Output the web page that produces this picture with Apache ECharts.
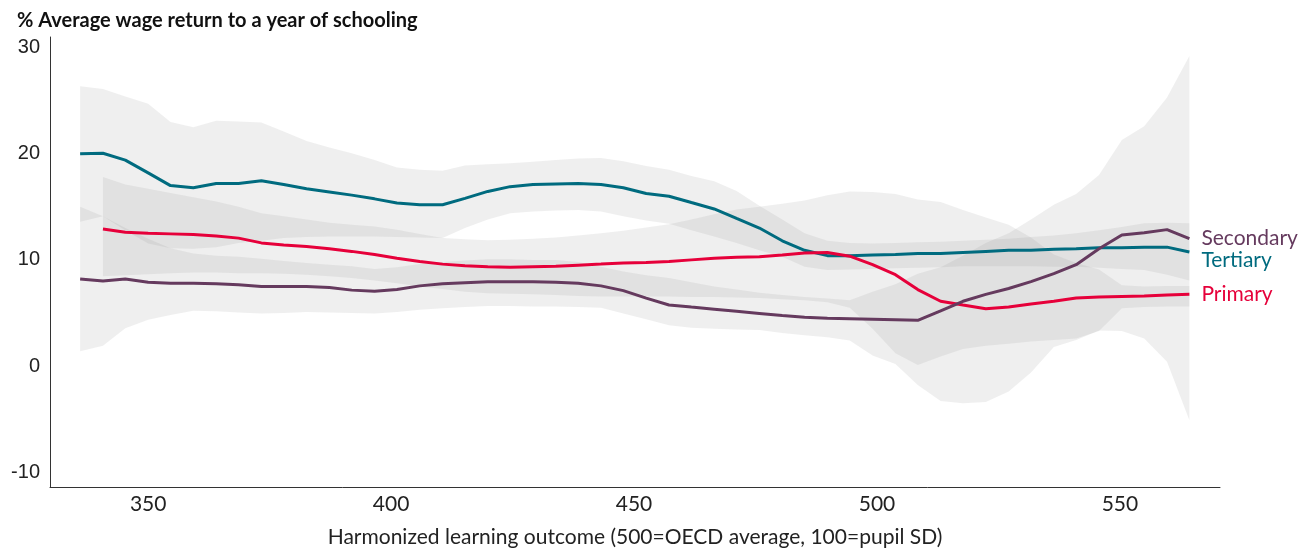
<!DOCTYPE html>
<html>
<head>
<meta charset="utf-8">
<script src="https://cdn.jsdelivr.net/npm/echarts@6/dist/echarts.min.js"></script>
<style>
html,body{margin:0;padding:0;background:#fff;}
#chart{width:1312px;height:548px;}
</style>
</head>
<body>
<div id="chart"></div>
<script>
// Harmonized learning outcome (x)
const xValues = [336.0, 340.7, 345.3, 350.0, 354.6, 359.3, 364.0, 368.6, 373.3, 377.9,
  382.6, 387.3, 391.9, 396.6, 401.2, 405.9, 410.6, 415.2, 419.9, 424.5,
  429.2, 433.9, 438.5, 443.2, 447.8, 452.5, 457.2, 461.8, 466.5, 471.1,
  475.8, 480.5, 485.1, 489.8, 494.4, 499.1, 503.8, 508.4, 513.1, 517.7,
  522.4, 527.1, 531.7, 536.4, 541.0, 545.7, 550.4, 555.0, 559.7, 564.3];

const tertiary = [20.0, 20.05, 19.4, 18.2, 17.0, 16.8, 17.2, 17.2, 17.45, 17.1,
  16.7, 16.4, 16.1, 15.75, 15.35, 15.2, 15.2, 15.8, 16.45, 16.9,
  17.1, 17.15, 17.2, 17.1, 16.8, 16.25, 16.0, 15.4, 14.8, 13.9,
  13.0, 11.8, 10.9, 10.4, 10.4, 10.45, 10.5, 10.6, 10.6, 10.7,
  10.8, 10.9, 10.9, 11.0, 11.05, 11.15, 11.15, 11.2, 11.2, 10.75];
const tertiaryUpper = [26.35, 26.1, 25.4, 24.7, 23.0, 22.5, 23.1, 23.05, 22.95, 22.1,
  21.2, 20.6, 20.05, 19.4, 18.7, 18.5, 18.4, 18.9, 19.0, 19.1,
  19.25, 19.4, 19.55, 19.6, 19.3, 18.85, 18.5, 17.9, 17.4, 16.5,
  15.1, 13.8, 12.5, 11.8, 11.6, 11.55, 11.6, 11.65, 11.7, 11.8,
  11.9, 12.0, 12.15, 12.3, 12.5, 12.8, 13.1, 13.45, 13.5, 13.45];
const tertiaryLower = [13.6, 14.1, 12.8, 11.55, 11.1, 11.05, 11.2, 11.6, 11.8, 12.05,
  12.15, 12.2, 12.2, 12.2, 12.15, 12.1, 12.05, 13.0, 13.8, 14.4,
  14.55, 14.65, 14.7, 14.55, 14.1, 13.7, 13.4, 12.8, 12.2, 11.6,
  10.9, 10.3, 9.35, 9.05, 9.1, 9.15, 9.2, 9.25, 9.3, 9.4,
  9.4, 9.4, 9.4, 9.35, 9.35, 9.25, 9.15, 9.05, 8.6, 8.05];

const primary = [null, 12.9, 12.6, 12.5, 12.45, 12.4, 12.25, 12.05, 11.6, 11.4,
  11.25, 11.05, 10.8, 10.5, 10.15, 9.85, 9.6, 9.45, 9.35, 9.3,
  9.35, 9.4, 9.5, 9.6, 9.7, 9.75, 9.85, 10.0, 10.15, 10.25,
  10.3, 10.45, 10.65, 10.7, 10.35, 9.55, 8.6, 7.2, 6.1, 5.75,
  5.4, 5.55, 5.85, 6.1, 6.4, 6.5, 6.55, 6.6, 6.7, 6.75];
const primaryUpper = [null, 17.8, 17.1, 16.7, 16.3, 15.9, 15.5, 15.0, 14.4, 14.1,
  13.8, 13.5, 13.3, 13.15, 12.85, 12.45, 12.05, 11.95, 11.85, 11.9,
  12.0, 12.1, 12.3, 12.5, 12.75, 13.05, 13.35, 13.8, 14.3, 14.75,
  15.0, 15.3, 15.6, 16.1, 16.45, 16.4, 16.2, 15.7, 15.45, 14.7,
  14.0, 13.3, 12.1, 10.5, 9.7, 9.1, 7.6, 7.5, 7.55, 7.55];
const primaryLower = [null, 8.45, 8.55, 8.65, 8.75, 8.8, 8.8, 8.75, 8.75, 8.7,
  8.6, 8.45, 8.3, 8.05, 7.8, 7.5, 7.25, 7.0, 6.85, 6.8,
  6.75, 6.7, 6.6, 6.55, 6.55, 6.55, 6.55, 6.5, 6.5, 6.45,
  6.4, 6.3, 6.2, 6.0, 5.5, 3.5, 1.2, 0.1, 0.9, 1.6,
  1.9, 2.1, 2.3, 2.45, 2.6, 3.3, 5.45, 5.55, 5.6, 5.6];

const secondary = [8.2, 8.0, 8.2, 7.9, 7.8, 7.8, 7.75, 7.65, 7.5, 7.5,
  7.5, 7.4, 7.15, 7.05, 7.2, 7.55, 7.75, 7.85, 7.95, 7.95,
  7.95, 7.9, 7.8, 7.55, 7.1, 6.4, 5.75, 5.55, 5.35, 5.15,
  4.95, 4.75, 4.6, 4.5, 4.45, 4.4, 4.35, 4.3, 5.2, 6.1,
  6.75, 7.3, 7.95, 8.7, 9.55, 11.05, 12.35, 12.55, 12.85, 12.0];
const secondaryUpper = [15.0, 14.1, 13.0, 12.0, 11.1, 10.6, 10.4, 10.3, 10.1, 9.9,
  9.7, 9.55, 9.4, 9.15, 9.3, 9.6, 9.8, 9.95, 10.05, 10.05,
  10.0, 10.0, 9.8, 9.35, 8.9, 8.55, 8.3, 7.9, 7.5, 7.2,
  6.9, 6.7, 6.5, 6.35, 6.2, 7.0, 7.7, 8.7, 9.3, 10.4,
  11.6, 12.5, 13.8, 15.2, 16.2, 18.0, 21.3, 22.6, 25.3, 29.2];
const secondaryLower = [1.4, 1.9, 3.55, 4.35, 4.8, 5.2, 5.15, 5.05, 4.95, 5.0,
  5.1, 5.05, 5.0, 4.95, 5.1, 5.3, 5.45, 5.55, 5.65, 5.65,
  5.6, 5.6, 5.55, 5.5, 4.95, 4.4, 3.85, 3.6, 3.5, 3.45,
  3.4, 3.1, 2.9, 2.7, 2.4, 1.0, 0.2, -1.8, -3.3, -3.5,
  -3.4, -2.4, -0.6, 1.8, 2.45, 3.35, 3.3, 2.6, 0.4, -5.1];

const yTicks = [-10, 0, 10, 20, 30];
const xTicks = [350, 400, 450, 500, 550];

const COLORS = { Secondary: '#653a5e', Tertiary: '#006b7f', Primary: '#e6003a' };
const BAND = 'rgba(150,150,150,0.15)';
const FONT = 'Lato';

function pairs(vals) {
  const out = [];
  for (let i = 0; i < xValues.length; i++) {
    if (vals[i] !== null && vals[i] !== undefined) out.push([xValues[i], vals[i]]);
  }
  return out;
}
function bandRows(up, lo) {
  const out = [];
  for (let i = 0; i < xValues.length; i++) {
    if (up[i] !== null && lo[i] !== null) out.push([xValues[i], lo[i], up[i]]);
  }
  return out;
}
function band(name, up, lo) {
  const rows = bandRows(up, lo);
  return {
    type: 'custom', name: name, silent: true, z: 1,
    data: rows,
    encode: { x: 0, y: [1, 2] },
    renderItem: function (params, api) {
      if (params.dataIndex !== 0) return null;
      const top = [], bottom = [];
      for (let i = 0; i < rows.length; i++) {
        top.push(api.coord([rows[i][0], rows[i][2]]));
        bottom.push(api.coord([rows[i][0], rows[i][1]]));
      }
      const pts = top.concat(bottom.reverse());
      return {
        type: 'polygon',
        shape: { points: pts },
        style: { fill: BAND, stroke: null }
      };
    }
  };
}
function mainLine(name, vals, offset) {
  return {
    type: 'line', name: name, data: pairs(vals), symbol: 'none', z: 5,
    lineStyle: { color: COLORS[name], width: 3 },
    endLabel: {
      show: true, formatter: name, color: COLORS[name], fontSize: 21,
      fontFamily: FONT, distance: 12, offset: offset || [0, 0]
    }
  };
}

const chart = echarts.init(document.getElementById('chart'), null, { renderer: 'canvas' });
chart.setOption({
  animation: false,
  backgroundColor: '#fff',
  title: {
    text: '% Average wage return to a year of schooling',
    left: 12, top: 6,
    textStyle: { fontFamily: FONT, fontWeight: 'bold', fontSize: 20, color: '#111' }
  },
  grid: { left: 50, right: 92, top: 37, bottom: 61, containLabel: false, outerBoundsMode: 'none' },
  xAxis: {
    type: 'value', min: 329.8, max: 570.6,
    name: 'Harmonized learning outcome (500=OECD average, 100=pupil SD)',
    nameLocation: 'middle', nameGap: 40,
    nameTextStyle: { fontFamily: FONT, fontSize: 21, color: '#222' },
    axisLine: { show: true, onZero: false, lineStyle: { color: '#333', width: 1 } },
    axisTick: { show: false },
    splitLine: { show: false },
    axisLabel: { customValues: xTicks, fontFamily: FONT, fontSize: 21, color: '#222', margin: 7 }
  },
  yAxis: {
    type: 'value', min: -11.4, max: 31,
    axisLine: { show: true, onZero: false, lineStyle: { color: '#333', width: 1 } },
    axisTick: { show: false },
    splitLine: { show: false },
    axisLabel: { customValues: yTicks, fontFamily: 'Liberation Sans', fontSize: 20, color: '#222', margin: 10 }
  },
  series: [
    band('Tertiary band', tertiaryUpper, tertiaryLower),
    band('Primary band', primaryUpper, primaryLower),
    band('Secondary band', secondaryUpper, secondaryLower),
    mainLine('Tertiary', tertiary, [0, 8]),
    mainLine('Primary', primary),
    mainLine('Secondary', secondary)
  ]
});
</script>
</body>
</html>
